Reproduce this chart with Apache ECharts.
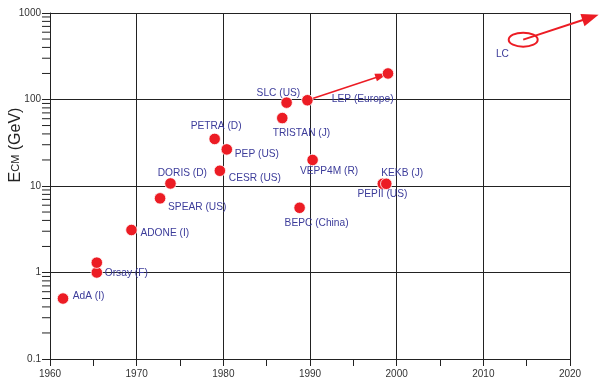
<!DOCTYPE html>
<html>
<head>
<meta charset="utf-8">
<script src="https://cdn.jsdelivr.net/npm/echarts@6/dist/echarts.min.js"></script>
<style>
html,body{margin:0;padding:0;background:#fff;}
#chart{width:599px;height:379px;}
</style>
</head>
<body>
<div id="chart"></div>
<script>
// ---- data ----
const colliders = ['AdA (I)', 'Orsay (F)', '', 'ADONE (I)', 'SPEAR (US)', 'DORIS (D)', 'CESR (US)', 'PEP (US)', 'PETRA (D)', 'SLC (US)', 'TRISTAN (J)', 'LEP (Europe)', '', 'VEPP4M (R)', 'BEPC (China)', 'PEPII (US)', 'KEKB (J)'];
const years    = [1961.5, 1965.4, 1965.4, 1969.4, 1972.7, 1973.9, 1979.6, 1980.4, 1979.0, 1987.3, 1986.8, 1989.7, 1999.0, 1990.3, 1988.8, 1998.4, 1998.8];
const energies = [0.5, 1.0, 1.3, 3.1, 7.2, 10.7, 15, 26.5, 35, 92, 61, 98, 200, 20, 5.6, 10.6, 10.6];
const lepFrom = 11, lepTo = 12;
const lcName = 'LC';
const lcYear = 2014.6, lcEnergy = 492;
const lcArrowYear = 2023.3, lcArrowEnergy = 955;
const xMin = 1960, xMax = 2020, xStep = 10;
const yMin = 0.1, yMax = 1000;
const yTickLabels = ['0.1', '1', '10', '100', '1000'];
const yMinorTicks = [];
[0.1, 1, 10, 100].forEach(d => { for (let k = 2; k <= 9; k++) yMinorTicks.push(+(d * k).toPrecision(3)); });

// ---- styling ----
const RED = '#ec1c24';
const BLUE = '#3c3c9a';
const FONT = 'Liberation Sans, Arial, sans-serif';
// label offsets (px) from point centre: [dx, dy]
const labelOffsets = [[9.7,-2],[8,0.7],[0,0],[9,3],[8,9],[-12.7,-10],[9,7.6],[8,4.4],[-24,-13],[-30,-9],[-9.6,15],[24.4,-1],[0,0],[-12.7,11.7],[-15,15],[-25.3,10.6],[-5,-11]];

function arrow(p1, p2, headLen, headW, lw, color) {
  const dx = p2[0]-p1[0], dy = p2[1]-p1[1], L = Math.hypot(dx, dy);
  const ux = dx/L, uy = dy/L;
  const base = [p2[0]-ux*headLen, p2[1]-uy*headLen];
  const left = [base[0]-uy*headW/2, base[1]+ux*headW/2];
  const right = [base[0]+uy*headW/2, base[1]-ux*headW/2];
  return [
    {type:'line', shape:{x1:p1[0], y1:p1[1], x2:base[0]+ux*2, y2:base[1]+uy*2}, style:{stroke:color, lineWidth:lw}},
    {type:'polygon', shape:{points:[p2, left, right]}, style:{fill:color}}
  ];
}

const chart = echarts.init(document.getElementById('chart'), null, {renderer:'canvas'});
const scatterData = years.map((y, i) => ({
  value: [y, energies[i]],
  label: {
    show: colliders[i] !== '',
    formatter: colliders[i],
    position: 'inside',
    align: 'left',
    verticalAlign: 'middle',
    offset: labelOffsets[i]
  }
}));

const option = {
  animation: false,
  backgroundColor: '#fff',
  grid: {left: 50, right: 29, top: 13, bottom: 20, containLabel: false, outerBoundsMode: 'none'},
  xAxis: {
    type: 'value', min: xMin, max: xMax, interval: xStep,
    axisLine: {show: true, lineStyle: {color: '#222', width: 1}},
    axisTick: {show: true, length: 7, lineStyle: {color: '#222'}},
    minorTick: {show: true, splitNumber: 2, length: 7, lineStyle: {color: '#222'}},
    axisLabel: {color: '#333', fontSize: 10, fontFamily: FONT, margin: 10, formatter: v => String(v)},
    splitLine: {show: true, lineStyle: {color: '#222', width: 1}}
  },
  yAxis: {
    type: 'log', logBase: 10, min: yMin, max: yMax,
    name: '{e|E}{s|CM}{e| (GeV)}',
    nameLocation: 'middle', nameGap: 26, nameRotate: 90, nameMoveOverlap: false,
    nameTextStyle: {
      padding: [0, 0, 0, 82],
      rich: {
        e: {fontSize: 16, fontFamily: FONT, color: '#222'},
        s: {fontSize: 11, fontFamily: FONT, color: '#222'}
      }
    },
    axisLine: {show: true, lineStyle: {color: '#222', width: 1}},
    axisTick: {show: true, length: 8, lineStyle: {color: '#222'}},
    axisLabel: {
      color: '#333', fontSize: 10, fontFamily: FONT, margin: 9,
      formatter: v => { const i = Math.round(Math.log10(v) + 1); return yTickLabels[i] !== undefined ? yTickLabels[i] : ''; }
    },
    splitLine: {show: true, lineStyle: {color: '#222', width: 1}}
  },
  series: [
    {
      type: 'custom', name: 'minorTicks', clip: false, silent: true, z: 3,
      data: yMinorTicks.map(v => [xMin, v]),
      renderItem: (params, api) => {
        const p = api.coord([api.value(0), api.value(1)]);
        return {type: 'line', shape: {x1: p[0]-8, y1: p[1], x2: p[0], y2: p[1]}, style: {stroke: '#222', lineWidth: 1}};
      }
    },
    {
      type: 'custom', name: 'lep', clip: false, silent: true, z: 4,
      data: [[years[lepFrom], energies[lepFrom], years[lepTo], energies[lepTo]]],
      renderItem: (params, api) => {
        const p1 = api.coord([api.value(0), api.value(1)]);
        const p2 = api.coord([api.value(2), api.value(3)]);
        return {type: 'group', children: arrow(p1, p2, 13, 8, 1.5, RED)};
      }
    },
    {
      type: 'custom', name: 'lc', clip: false, silent: true, z: 4,
      data: [[lcYear, lcEnergy, lcArrowYear, lcArrowEnergy]],
      renderItem: (params, api) => {
        const p1 = api.coord([api.value(0), api.value(1)]);
        const p2 = api.coord([api.value(2), api.value(3)]);
        return {type: 'group', children: [
          {type: 'ellipse', shape: {cx: p1[0], cy: p1[1], rx: 14.5, ry: 7}, style: {fill: 'none', stroke: RED, lineWidth: 2}},
          ...arrow(p1, p2, 17, 13, 2, RED),
          {type: 'text', x: p1[0]-27.3, y: p1[1]+15, style: {text: lcName, fill: BLUE, font: '10.2px ' + FONT, verticalAlign: 'middle', align: 'left'}}
        ]};
      }
    },
    {
      type: 'scatter', name: 'colliders', z: 5,
      symbol: 'circle', symbolSize: 11.5,
      itemStyle: {color: RED, borderColor: '#fff', borderWidth: 0.8, opacity: 1},
      label: {color: BLUE, fontSize: 10.2, fontFamily: FONT},
      data: scatterData
    }
  ]
};
chart.setOption(option);
</script>
</body>
</html>
